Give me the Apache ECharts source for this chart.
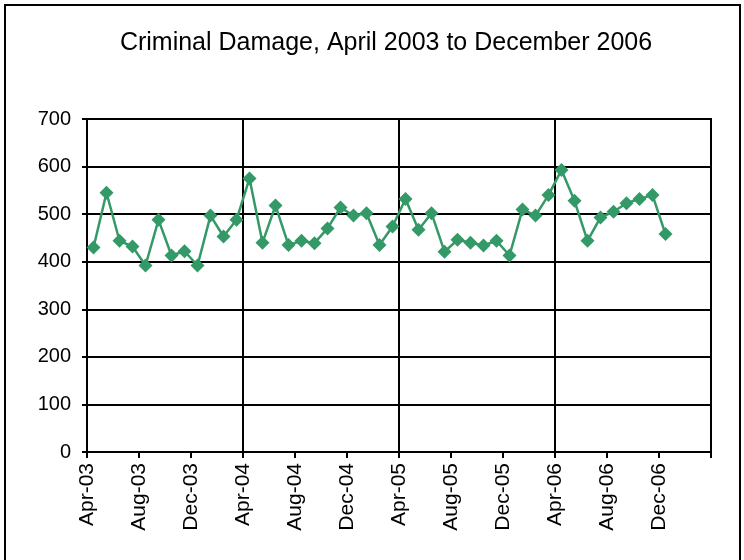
<!DOCTYPE html>
<html>
<head>
<meta charset="utf-8">
<script src="https://cdn.jsdelivr.net/npm/echarts@6/dist/echarts.min.js"></script>
<style>
html,body{margin:0;padding:0;background:#fff;}
#chart{width:744px;height:560px;}
</style>
</head>
<body>
<div id="chart"></div>
<script>
// Axis months (the axis runs Apr-03 .. Mar-07; data ends Dec-06)
const months = [
  'Apr-03','May-03','Jun-03','Jul-03','Aug-03','Sep-03','Oct-03','Nov-03','Dec-03','Jan-04','Feb-04','Mar-04',
  'Apr-04','May-04','Jun-04','Jul-04','Aug-04','Sep-04','Oct-04','Nov-04','Dec-04','Jan-05','Feb-05','Mar-05',
  'Apr-05','May-05','Jun-05','Jul-05','Aug-05','Sep-05','Oct-05','Nov-05','Dec-05','Jan-06','Feb-06','Mar-06',
  'Apr-06','May-06','Jun-06','Jul-06','Aug-06','Sep-06','Oct-06','Nov-06','Dec-06','Jan-07','Feb-07','Mar-07'
];
// Criminal damage counts, Apr-03 .. Dec-06
const criminalDamage = [
  430, 545, 444, 432, 392, 488, 413, 422, 392, 497, 453, 488,
  575, 440, 518, 435, 444, 439, 470, 514, 497, 502, 435, 474,
  532, 467, 502, 421, 446, 440, 434, 444, 413, 510, 497, 540,
  593, 528, 444, 493, 505, 523, 532, 540, 458
];
// Tick labels sit on the boundaries between months (every 4th boundary labelled)
const tickLabels = months.concat(['']);
const yTicks = { min: 0, max: 700, interval: 100 };

const chart = echarts.init(document.getElementById('chart'));
chart.setOption({
  animation: false,
  backgroundColor: '#fff',
  title: {
    text: 'Criminal Damage, April 2003 to December 2006',
    left: 381,
    top: 26,
    textAlign: 'center',
    textStyle: { fontFamily: 'Liberation Sans', fontSize: 25, fontWeight: 'normal', color: '#000' }
  },
  graphic: [{
    type: 'rect',
    shape: { x: 5, y: 5, width: 735, height: 600 },
    style: { fill: 'none', stroke: '#000', lineWidth: 2 },
    z: -1
  }],
  grid: {
    left: 87, right: 33, top: 119, bottom: 108,
    show: true, borderColor: '#000', borderWidth: 2, backgroundColor: 'transparent'
  },
  xAxis: [{
    type: 'category',
    data: months,
    boundaryGap: true,
    axisLine: { show: true, lineStyle: { color: '#000', width: 2 } },
    axisTick: { show: false },
    axisLabel: { show: false },
    splitLine: { show: false }
  }, {
    type: 'category',
    data: tickLabels,
    boundaryGap: false,
    position: 'bottom',
    axisLine: { show: false },
    axisTick: { show: true, interval: 3, length: 6, lineStyle: { color: '#000', width: 2 } },
    axisLabel: {
      interval: 3, rotate: 90, margin: 11,
      fontFamily: 'Liberation Sans', fontSize: 21, color: '#000'
    },
    splitLine: {
      show: true,
      interval: function (index) { return index > 0 && index < 48 && index % 12 === 0; },
      lineStyle: { color: '#000', width: 2 }
    }
  }],
  yAxis: {
    type: 'value',
    min: yTicks.min, max: yTicks.max, interval: yTicks.interval,
    axisLine: { show: true, lineStyle: { color: '#000', width: 2 } },
    axisTick: { show: true, length: 5, lineStyle: { color: '#000', width: 2 } },
    axisLabel: { margin: 16, fontFamily: 'Liberation Sans', fontSize: 20, color: '#000' },
    splitLine: { show: true, lineStyle: { color: '#000', width: 2 } }
  },
  series: [{
    type: 'line',
    xAxisIndex: 0,
    data: criminalDamage,
    showSymbol: true,
    showAllSymbol: true,
    symbol: 'diamond',
    symbolSize: 14,
    itemStyle: { color: '#339966' },
    lineStyle: { color: '#339966', width: 2.5 },
    z: 5
  }]
});
</script>
</body>
</html>
